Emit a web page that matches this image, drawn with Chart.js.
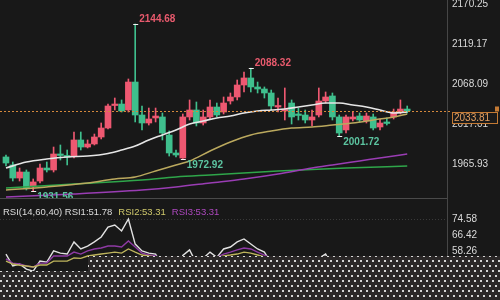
<!DOCTYPE html>
<html>
<head>
<meta charset="utf-8">
<title>Gold daily K-line</title>
<script src="https://cdn.jsdelivr.net/npm/chart.js@4.4.1/dist/chart.umd.min.js"></script>
<style>
  html, body { margin: 0; padding: 0; background: #181818; }
  #wrap { position: relative; width: 500px; height: 300px; overflow: hidden; background: #181818; }
  #priceChart { position: absolute; left: 0; top: 0; }
  #rsiChart { position: absolute; left: 0; top: 198px; }
  .mask {
    position: absolute;
    background-color: #2b2828;
    background-image: radial-gradient(circle at 1px 1px, #d8d8d8 0.7px, transparent 1.2px),
                      radial-gradient(circle at 1px 1px, #d8d8d8 0.7px, transparent 1.2px);
    background-size: 6px 10px;
    background-position: 0 0, 3px 5px;
    background-attachment: fixed;
  }
</style>
</head>
<body>
<div id="wrap">
  <canvas id="priceChart" width="500" height="198"></canvas>
  <canvas id="rsiChart" width="500" height="102"></canvas>
  <div class="mask" style="left:88px;top:256px;width:412px;height:44px"></div>
  <div class="mask" style="left:0;top:271px;width:88px;height:29px"></div>
</div>
<script>
// candles (oldest -> newest)
const opens = [1974.9, 1964.7, 1948.0, 1955.7, 1936.6, 1944.2, 1960.8, 1958.3, 1977.4, 1975.5,
               1976.1, 1996.6, 1987.6, 1991.5, 2000.4, 2011.9, 2040.6, 2042.5, 2034.9, 2070.6,
               2028.5, 2018.3, 2024.7, 2026.0, 2002.9, 1980.0, 1973.6, 2026.0, 2034.9, 2018.3,
               2026.0, 2038.7, 2032.3, 2046.4, 2051.5, 2066.8, 2075.8, 2064.3, 2061.7, 2056.6,
               2038.7, 2033.6, 2043.8, 2028.5, 2028.5, 2022.1, 2028.5, 2046.4, 2052.8, 2026.0,
               2009.4, 2023.4, 2027.2, 2020.9, 2026.0, 2013.2, 2018.3, 2026.0, 2032.3, 2036.1];
const closes = [1967.2, 1948.0, 1955.7, 1935.3, 1943.0, 1960.8, 1958.3, 1978.7, 1976.8, 1974.9,
                1996.6, 1987.6, 1991.5, 2000.4, 2011.9, 2040.0, 2041.3, 2033.6, 2070.6, 2028.5,
                2018.3, 2023.4, 2027.2, 2005.5, 1980.0, 1977.4, 2026.0, 2034.9, 2018.3, 2026.0,
                2038.7, 2028.5, 2043.8, 2051.5, 2066.8, 2075.8, 2064.3, 2061.7, 2056.6, 2040.0,
                2039.4, 2034.2, 2026.0, 2027.9, 2022.1, 2026.0, 2046.4, 2051.5, 2026.0, 2005.5,
                2026.0, 2026.0, 2022.1, 2027.2, 2011.9, 2018.3, 2017.7, 2032.3, 2036.1, 2033.81];
const highs = [1977.4, 1968.5, 1960.8, 1958.3, 1946.8, 1965.9, 1968.5, 1987.6, 1990.2, 1983.8,
               2006.8, 2006.8, 1996.6, 2004.2, 2018.3, 2042.5, 2050.2, 2047.7, 2074.5, 2144.68,
               2040.0, 2037.4, 2037.4, 2031.1, 2008.1, 1983.8, 2029.8, 2047.7, 2045.1, 2034.9,
               2047.7, 2043.8, 2051.5, 2056.6, 2073.2, 2083.4, 2088.32, 2070.6, 2064.3, 2060.4,
               2050.2, 2063.0, 2047.7, 2037.4, 2034.9, 2034.9, 2063.0, 2057.9, 2056.6, 2028.5,
               2028.5, 2032.3, 2031.1, 2031.1, 2029.8, 2023.4, 2024.7, 2036.1, 2047.7, 2040.0];
const lows = [1963.4, 1944.2, 1944.2, 1932.7, 1931.56, 1941.7, 1955.7, 1955.7, 1971.0, 1964.7,
              1973.6, 1983.8, 1986.4, 1990.2, 1997.9, 2010.6, 2034.9, 2032.3, 2032.3, 2019.6,
              2009.4, 2015.7, 2019.6, 1996.6, 1976.1, 1974.9, 1972.92, 2022.1, 2014.5, 2015.7,
              2023.4, 2026.0, 2029.8, 2042.5, 2047.7, 2057.9, 2057.9, 2056.6, 2050.2, 2034.9,
              2032.3, 2022.1, 2017.0, 2022.1, 2018.3, 2014.5, 2026.0, 2043.8, 2022.1, 2001.72,
              2005.5, 2020.9, 2019.6, 2018.3, 2009.4, 2009.4, 2015.7, 2023.4, 2029.8, 2031.1];

// moving averages, read at some candles
const maFastIdx = [0, 3, 6, 9, 12, 15, 17, 19, 21, 23, 25, 27, 29, 31, 33, 35, 37, 39, 41, 43, 45, 47, 49, 51, 53, 55, 57, 59];
const maFast = [1960.8, 1968.5, 1972.3, 1974.9, 1976.1, 1979.4, 1983.8, 1988.9, 1996.6, 2003.0, 2009.4, 2017.0, 2020.8, 2024.7,
                2027.2, 2031.1, 2033.6, 2034.9, 2036.2, 2038.7, 2041.3, 2043.8, 2043.8, 2041.3, 2038.7, 2034.9, 2031.1, 2032.3];
const maMidIdx = [0, 6, 12, 16, 19, 22, 25, 27, 30, 33, 36, 39, 42, 45, 48, 51, 54, 57, 59];
const maMid = [1932.7, 1936.6, 1941.7, 1946.8, 1949.3, 1957.0, 1964.7, 1969.8, 1982.5, 1994.0,
               2003.0, 2008.1, 2011.9, 2013.2, 2015.7, 2018.3, 2022.1, 2026.0, 2029.8];
const maSlowIdx = [0, 10, 20, 25, 30, 35, 40, 45, 48, 52, 56, 59];
const maSlow = [1923.8, 1927.6, 1932.7, 1936.6, 1941.7, 1946.8, 1953.2, 1960.8, 1964.7, 1969.8, 1974.9, 1978.7];
const maLongIdx = [0, 10, 20, 25, 30, 40, 50, 59];
const maLong = [1935.3, 1940.4, 1945.5, 1949.3, 1951.9, 1957.0, 1960.8, 1963.4];

// RSI(14,60,40)
const rsi1 = [56.7, 50.6, 51.6, 49.0, 48.0, 53.1, 52.6, 58.3, 57.2, 56.7,
              62.9, 59.3, 60.8, 62.9, 65.4, 70.5, 71.5, 68.5, 74.6, 61.8,
              58.3, 57.2, 56.7, 50.5, 44.0, 43.5, 56.0, 58.8, 52.0, 54.5,
              57.7, 55.0, 59.3, 60.3, 62.9, 64.4, 61.8, 59.3, 57.7, 52.0,
              52.5, 52.0, 49.0, 48.5, 47.5, 49.0, 54.5, 56.7, 50.0, 44.5,
              49.5, 50.0, 49.0, 50.5, 47.0, 48.5, 48.0, 51.0, 52.5, 51.78];
const rsi2 = [53.1, 51.6, 51.0, 50.6, 50.1, 51.1, 51.1, 53.1, 53.1, 53.1,
              54.7, 54.5, 55.7, 56.2, 56.7, 57.2, 57.7, 57.2, 59.3, 57.7,
              56.2, 55.7, 55.2, 54.0, 52.5, 52.0, 54.0, 54.8, 53.8, 54.2,
              55.0, 54.6, 55.8, 56.2, 56.7, 57.7, 57.2, 56.2, 55.2, 54.2,
              54.2, 54.0, 53.4, 53.2, 52.9, 53.0, 54.0, 54.6, 53.6, 52.3,
              53.0, 53.2, 53.0, 53.3, 52.7, 52.9, 52.8, 53.2, 53.4, 53.31];
const rsi3 = [54.2, 52.1, 51.6, 50.6, 50.1, 52.1, 52.1, 55.7, 55.7, 55.7,
              57.7, 56.7, 58.3, 59.3, 59.8, 60.8, 60.8, 60.3, 63.4, 60.3,
              57.2, 56.2, 55.7, 54.0, 52.0, 51.5, 54.5, 55.5, 54.0, 54.5,
              55.5, 55.0, 56.7, 57.7, 58.8, 59.8, 59.3, 57.7, 56.2, 54.5,
              54.5, 54.3, 53.5, 53.3, 52.8, 53.0, 54.5, 55.2, 53.8, 52.0,
              53.0, 53.2, 52.9, 53.3, 52.5, 52.8, 52.6, 53.2, 53.5, 53.31];

const priceTicks = [1965.93, 2017.01, 2068.09, 2119.17, 2170.25];
const rsiTicks = [41.94, 50.10, 58.26, 66.42, 74.58];

// highest / lowest marks
const markIdx = [19, 36, 26, 49, 4];
const markVal = [2144.68, 2088.32, 1972.92, 2001.72, 1931.56];
const markKind = ['high', 'high', 'low', 'low', 'low'];

const UP = '#ee5871';
const DOWN = '#3fbf8d';
const FONT = '"Liberation Sans", Arial, sans-serif';
const X_MIN = -0.88, X_MAX = 64.85;

const days = opens.map((_, i) => i);
const candleColors = days.map(i => closes[i] >= opens[i] ? UP : DOWN);
const lastPrice = closes[closes.length - 1];

function fixedAxis(s) {
    s.width = 53;
    s.paddingTop = 0;
    s.paddingBottom = 0;
}

function maLine(idx, vals, color, width) {
    return {
        type: 'line',
        data: idx.map((d, k) => ({x: d, y: vals[k]})),
        borderColor: color,
        borderWidth: width,
        pointRadius: 0,
        cubicInterpolationMode: 'monotone',
        order: 0
    };
}

const priceMarks = {
    id: 'priceMarks',
    afterDatasetsDraw(chart) {
        const {ctx, chartArea} = chart;
        const x = chart.scales.x, y = chart.scales.y;
        ctx.save();
        ctx.font = 'bold 10px ' + FONT;
        ctx.textAlign = 'left';
        ctx.textBaseline = 'middle';
        markIdx.forEach((d, k) => {
            const px = x.getPixelForValue(d);
            const py = Math.round(y.getPixelForValue(markVal[k])) + 0.5;
            const high = markKind[k] === 'high';
            ctx.strokeStyle = '#f2f2f2';
            ctx.lineWidth = 1;
            ctx.beginPath();
            ctx.moveTo(px - 2, py);
            ctx.lineTo(px + 3, py);
            ctx.stroke();
            ctx.fillStyle = high ? '#e85a6d' : '#5cc4a0';
            ctx.fillText(markVal[k].toFixed(2), px + 4, py + (high ? -5 : 6));
        });
        // last price line
        const ly = Math.round(y.getPixelForValue(lastPrice)) + 0.5;
        ctx.setLineDash([2, 2]);
        ctx.strokeStyle = '#d4883c';
        ctx.beginPath();
        ctx.moveTo(chartArea.left, ly);
        ctx.lineTo(chartArea.right + 4, ly);
        ctx.stroke();
        ctx.restore();
    },
    afterDraw(chart) {
        const {ctx, chartArea} = chart;
        const ly = Math.round(chart.scales.y.getPixelForValue(lastPrice)) + 0.5;
        ctx.save();
        ctx.fillStyle = '#1a1a1a';
        ctx.strokeStyle = '#c47a34';
        ctx.lineWidth = 1;
        ctx.fillRect(chartArea.right + 5, ly + 1, 45, 11);
        ctx.strokeRect(chartArea.right + 5.5, ly + 1, 45, 11);
        ctx.fillStyle = '#e6a060';
        ctx.font = '10px ' + FONT;
        ctx.textAlign = 'left';
        ctx.textBaseline = 'middle';
        ctx.fillText(lastPrice.toFixed(2), chartArea.right + 7, ly + 7);
        ctx.fillStyle = '#c47a34';
        ctx.fillRect(chartArea.right + 48, ly - 5, 4, 5);
        ctx.restore();
    }
};

const rsiDecor = {
    id: 'rsiDecor',
    beforeDatasetsDraw(chart) {
        const {ctx, chartArea} = chart;
        const y = chart.scales.y;
        ctx.save();
        ctx.strokeStyle = '#4a4a4a';
        ctx.lineWidth = 1;
        ctx.beginPath();
        ctx.moveTo(chartArea.left, 0.5);
        ctx.lineTo(chartArea.right, 0.5);
        ctx.stroke();
        const gy = Math.round(y.getPixelForValue(rsiTicks[rsiTicks.length - 1])) + 0.5;
        ctx.setLineDash([1, 2]);
        ctx.strokeStyle = '#3a3a3a';
        ctx.beginPath();
        ctx.moveTo(chartArea.left, gy);
        ctx.lineTo(chartArea.right, gy);
        ctx.stroke();
        ctx.restore();
    },
    afterDraw(chart) {
        const ctx = chart.ctx;
        const parts = [
            ['RSI(14,60,40) RSI1:' + rsi1[rsi1.length - 1].toFixed(2), '#dcdcdc'],
            ['RSI2:' + rsi2[rsi2.length - 1].toFixed(2), '#cfc86c'],
            ['RSI3:' + rsi3[rsi3.length - 1].toFixed(2), '#ae48bf']
        ];
        ctx.save();
        ctx.font = '9.5px ' + FONT;
        ctx.textBaseline = 'middle';
        ctx.textAlign = 'left';
        let tx = 3;
        parts.forEach(p => {
            ctx.fillStyle = p[1];
            ctx.fillText(p[0], tx, 14);
            tx += ctx.measureText(p[0]).width + 6;
        });
        ctx.restore();
    }
};

document.addEventListener('DOMContentLoaded', function() {
    const priceCtx = document.getElementById('priceChart');
    const rsiCtx = document.getElementById('rsiChart');

    const priceConfig = {
        type: 'bar',
        data: {
            datasets: [
                maLine(maFastIdx, maFast, '#e6e6e6', 1.6),
                maLine(maMidIdx, maMid, '#bba95e', 1.5),
                maLine(maSlowIdx, maSlow, '#9a3db4', 1.5),
                maLine(maLongIdx, maLong, '#2fa64a', 1.5),
                {
                    label: 'body',
                    data: days.map(i => ({x: i, y: [opens[i], closes[i]]})),
                    backgroundColor: candleColors,
                    barThickness: 6,
                    minBarLength: 1.5,
                    grouped: false,
                    order: 1
                },
                {
                    label: 'wick',
                    data: days.map(i => ({x: i, y: [lows[i], highs[i]]})),
                    backgroundColor: candleColors,
                    barThickness: 1,
                    grouped: false,
                    order: 2
                }
            ]
        },
        options: {
            responsive: false,
            animation: false,
            events: [],
            layout: {padding: 0},
            plugins: {legend: {display: false}, tooltip: {enabled: false}},
            scales: {
                x: {type: 'linear', min: X_MIN, max: X_MAX, display: false, offset: false},
                y: {
                    position: 'right',
                    min: 1922.5,
                    max: 2175.36,
                    afterBuildTicks: s => { s.ticks = priceTicks.map(v => ({value: v})); },
                    afterFit: fixedAxis,
                    grid: {display: false, drawTicks: false},
                    border: {display: true, color: '#464646'},
                    ticks: {
                        color: '#dadada',
                        padding: 5,
                        font: {size: 10, family: FONT},
                        callback: v => v.toFixed(2)
                    }
                }
            }
        },
        plugins: [priceMarks]
    };

    const rsiConfig = {
        type: 'line',
        data: {
            datasets: [
                {data: days.map(i => ({x: i, y: rsi2[i]})), borderColor: '#bdb45c', borderWidth: 1.4, pointRadius: 0},
                {data: days.map(i => ({x: i, y: rsi3[i]})), borderColor: '#8e3aa4', borderWidth: 1.4, pointRadius: 0},
                {data: days.map(i => ({x: i, y: rsi1[i]})), borderColor: '#e2e2e2', borderWidth: 1.4, pointRadius: 0}
            ]
        },
        options: {
            responsive: false,
            animation: false,
            events: [],
            layout: {padding: 0},
            plugins: {legend: {display: false}, tooltip: {enabled: false}},
            scales: {
                x: {type: 'linear', min: X_MIN, max: X_MAX, display: false, offset: false},
                y: {
                    position: 'right',
                    min: 33.27,
                    max: 85.29,
                    afterBuildTicks: s => { s.ticks = rsiTicks.map(v => ({value: v})); },
                    afterFit: fixedAxis,
                    grid: {display: false, drawTicks: false},
                    border: {display: true, color: '#464646'},
                    ticks: {
                        color: '#dadada',
                        padding: 5,
                        font: {size: 10, family: FONT},
                        callback: v => v.toFixed(2)
                    }
                }
            }
        },
        plugins: [rsiDecor]
    };

    try {
        new Chart(priceCtx.getContext('2d'), priceConfig);
        new Chart(rsiCtx.getContext('2d'), rsiConfig);
    } catch (error) {
        console.error('Chart initialization failed:', error);
    }
});
</script>
</body>
</html>
